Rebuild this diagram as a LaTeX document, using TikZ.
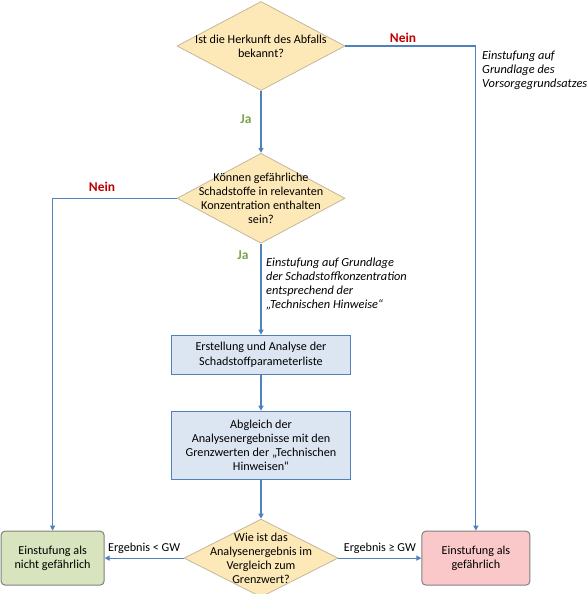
\documentclass[tikz,border=0pt]{standalone}
\usepackage{fontspec}
\setmainfont{Carlito}
\usetikzlibrary{arrows.meta,positioning,shapes.geometric}
\definecolor{flow}{HTML}{4F81BD}
\definecolor{query}{HTML}{FDE9B8}
\definecolor{queryline}{HTML}{C4B89C}
\definecolor{task}{HTML}{DCE6F2}
\definecolor{safe}{HTML}{D7E4BD}
\definecolor{risk}{HTML}{FAC8C8}
\definecolor{frame}{HTML}{808080}
\definecolor{nein}{HTML}{C00000}
\definecolor{ja}{HTML}{77A34A}

\begin{document}
\begin{tikzpicture}[x=1bp,y=-1bp, node distance=36bp, every node/.style={font=\fontsize{12.2}{14.2}\selectfont},
query/.style={diamond,draw=queryline,fill=query,line width=.8bp,inner sep=0pt,minimum width=168bp,minimum height=89bp},
qtext/.style={align=center,inner sep=0pt},
task/.style={draw=flow,fill=task,line width=1bp,minimum width=179bp,align=center},
verdict/.style={draw=frame,rounded corners=4bp,line width=1bp,minimum height=54bp,align=center},
arr/.style={-{Triangle[length=5bp,width=5bp]},draw=flow,line width=1.1bp},
note/.style={align=left,inner sep=0pt,font=\fontsize{12.4}{14}\selectfont\itshape},
nein/.style={text=nein,font=\fontsize{13.5}{14}\selectfont\bfseries},
ja/.style={text=ja,font=\fontsize{13.5}{14}\selectfont\bfseries}]
\useasboundingbox (0,0) rectangle (588,594);
\node[query] (herkunft) at (261,46) {};
\node[qtext] (herkunfttext) at (herkunft) {Ist die Herkunft des Abfalls\\bekannt?};
\node[query,below=62bp of herkunft,minimum height=90bp] (gehalt) {};
\node[qtext] (gehalttext) at (gehalt) {Können gefährliche\\Schadstoffe in relevanten\\Konzentration enthalten\\sein?};
\node[task,below=91bp of gehalt,minimum height=39bp] (liste) {Erstellung und Analyse der\\Schadstoffparameterliste};
\node[task,below=of liste,minimum height=68bp] (abgleich) {Abgleich der\\Analysenergebnisse mit den\\Grenzwerten der „Technischen\\Hinweisen“};
\node[query,below=39bp of abgleich,minimum width=154bp,minimum height=78bp] (vergleich) {};
\node[qtext] (vergleichtext) at (vergleich) {Wie ist das\\Analysenergebnis im\\Vergleich zum\\Grenzwert?};
\node[verdict,fill=safe,left=79bp of vergleich,minimum width=103bp] (ungef) {Einstufung als\\nicht gefährlich};
\node[verdict,fill=risk,right=83bp of vergleich,minimum width=108bp] (gef) {Einstufung als\\gefährlich};
% labels and notes
\node[nein] (nein1) at (403,38) {Nein};
\node[nein] (nein2) at (102,187) {Nein};
\node[ja] (ja1) at (246,119) {Ja};
\node[ja] (ja2) at (243,255) {Ja};
\node[note,anchor=north west] (vorsorge) at (482,51) {Einstufung auf\\Grundlage des\\Vorsorgegrundsatzes};
\node[note,anchor=north west] (hinweise) at (266,258) {Einstufung auf Grundlage\\der Schadstoffkonzentration\\entsprechend der\\„Technischen Hinweise“};
% connectors
\draw[arr] (herkunft) -- (gehalt);
\draw[arr] (herkunft.east) -| (gef);
\draw[arr] (gehalt.west) -| (ungef);
\draw[arr] (gehalt) -- (liste);
\draw[arr] (liste) -- (abgleich);
\draw[arr] (abgleich) -- (vergleich);
\draw[arr] (vergleich) -- node[above=1bp] (klein) {Ergebnis < GW} (ungef);
\draw[arr] (vergleich) -- node[above=1bp] (gross) {Ergebnis ≥ GW} (gef);
\end{tikzpicture}
\end{document}
